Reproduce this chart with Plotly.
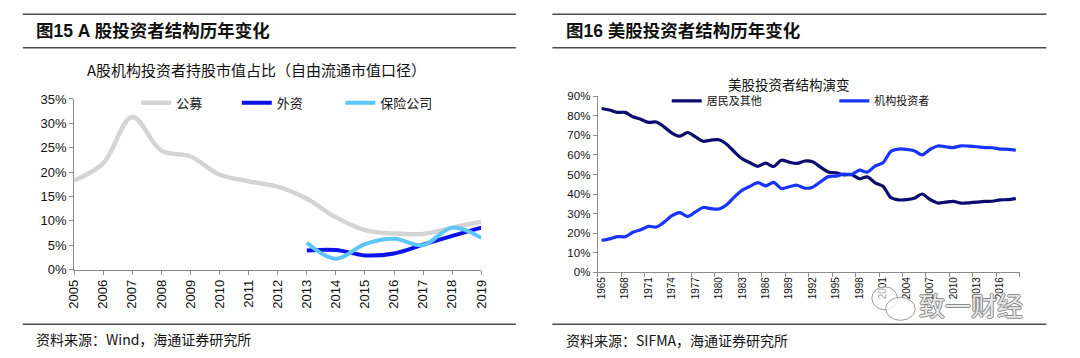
import plotly.graph_objects as go

W, H = 1080, 358

# ---------------- data: left panel (A-share) ----------------
a_years = [2005, 2006, 2007, 2008, 2009, 2010, 2011, 2012, 2013, 2014, 2015, 2016, 2017, 2018, 2019]
a_fund = [18.3, 21.8, 31.3, 24.4, 23.2, 19.5, 18.1, 17.0, 14.5, 10.7, 8.1, 7.4, 7.3, 8.6, 9.8]
a_sub_years = [2013, 2014, 2015, 2016, 2017, 2018, 2019]
a_foreign = [3.9, 4.0, 2.9, 3.3, 5.1, 6.9, 8.6]
a_insur = [5.5, 2.2, 5.2, 6.3, 5.0, 8.6, 6.5]

# ---------------- data: right panel (US) ----------------
us_years = list(range(1965, 2019))
us_household = [83.8, 83.0, 81.8, 81.8, 79.6, 78.3, 76.7, 76.9, 74.4, 71.2,
                69.6, 71.5, 69.3, 67.0, 67.6, 67.8, 65.5, 61.5, 58.0, 56.0,
                54.2, 55.8, 54.1, 57.3, 56.3, 55.7, 56.9, 56.5, 53.8, 51.3,
                50.9, 49.8, 49.9, 47.8, 48.8, 45.7, 44.0, 38.2, 37.0, 37.1,
                37.8, 40.0, 37.2, 35.4, 35.8, 36.2, 35.3, 35.5, 35.8, 36.2,
                36.3, 37.0, 37.1, 37.6]
us_inst = [16.2, 17.0, 18.2, 18.1, 20.4, 21.7, 23.4, 23.1, 25.6, 28.9,
           30.5, 28.5, 30.8, 33.1, 32.5, 32.3, 34.5, 38.5, 42.0, 44.0,
           45.8, 44.2, 46.0, 42.8, 43.7, 44.5, 43.0, 43.5, 46.2, 48.9,
           49.2, 50.2, 50.1, 52.2, 51.2, 54.3, 56.0, 61.8, 63.0, 62.9,
           62.2, 60.0, 62.8, 64.6, 64.2, 63.8, 64.7, 64.5, 64.2, 63.8,
           63.7, 63.0, 62.9, 62.4]
us_tickyears = list(range(1965, 2017, 3))

CJK = "Noto Sans CJK SC"
LAT = "Liberation Sans, Arial, Noto Sans CJK SC"
AX = "#8c8c8c"

fig = go.Figure()

fig.add_trace(go.Scatter(x=a_years, y=a_fund, name="公募", mode="lines",
                         line=dict(color="#d4d4d4", width=4.5, shape="spline"),
                         xaxis="x", yaxis="y", legend="legend"))
fig.add_trace(go.Scatter(x=a_sub_years, y=a_foreign, name="外资", mode="lines",
                         line=dict(color="#0a14e8", width=4, shape="spline"),
                         xaxis="x", yaxis="y", legend="legend2"))
fig.add_trace(go.Scatter(x=a_sub_years, y=a_insur, name="保险公司", mode="lines",
                         line=dict(color="#5cc6f8", width=4, shape="spline"),
                         xaxis="x", yaxis="y", legend="legend3"))

fig.add_trace(go.Scatter(x=us_years, y=us_household, name="居民及其他", mode="lines",
                         line=dict(color="#0c0c6e", width=3.2, shape="spline", smoothing=0.8),
                         xaxis="x2", yaxis="y2", legend="legend4"))
fig.add_trace(go.Scatter(x=us_years, y=us_inst, name="机构投资者", mode="lines",
                         line=dict(color="#1834ff", width=3.2, shape="spline", smoothing=0.8),
                         xaxis="x2", yaxis="y2", legend="legend5"))

def px(x):
    return x / W

def py(y):
    return 1 - y / H

tickfont_l = dict(family=LAT, size=13, color="#111111")
tickfont_r = dict(family=LAT, size=11.5, color="#111111")

def leg(xp, yp, size):
    return dict(x=px(xp), y=py(yp), xanchor="left", yanchor="middle",
                orientation="h", bgcolor="rgba(0,0,0,0)", borderwidth=0,
                font=dict(family=CJK, size=size, color="#111111"),
                itemwidth=30, tracegroupgap=0)

fig.update_layout(
    width=W, height=H,
    margin=dict(l=0, r=0, t=0, b=0),
    paper_bgcolor="white", plot_bgcolor="white",
    showlegend=True,
    xaxis=dict(domain=[px(67), px(480)], range=[2005, 2019],
               tickmode="array", tickvals=a_years, ticktext=[str(y) for y in a_years],
               tickangle=-90, ticks="outside", ticklen=4, tickcolor=AX,
               showline=True, linecolor=AX, linewidth=1, showgrid=False, zeroline=False,
               tickfont=tickfont_l, anchor="y", fixedrange=True),
    yaxis=dict(domain=[py(274), py(96)], range=[0, 35], dtick=5, ticksuffix="%",
               ticks="outside", ticklen=4, tickcolor=AX,
               showline=True, linecolor=AX, linewidth=1, showgrid=False, zeroline=False,
               tickfont=tickfont_l, anchor="x", fixedrange=True),
    xaxis2=dict(domain=[px(598), px(1026)], range=[1964.5, 2018.5],
                tickmode="array", tickvals=us_tickyears, ticktext=[str(y) for y in us_tickyears],
                tickangle=-90, ticks="", showline=True, linecolor=AX, linewidth=1,
                minor=dict(ticks="outside", tickmode="linear", tick0=1964.5, dtick=3,
                           ticklen=4, tickcolor=AX, showgrid=False),
                showgrid=False, zeroline=False,
                tickfont=dict(family=LAT, size=10, color="#111111"), anchor="y2", fixedrange=True),
    yaxis2=dict(domain=[py(276.7), py(93.3)], range=[0, 90], dtick=10, ticksuffix="%",
                ticks="outside", ticklen=4, tickcolor=AX,
                showline=True, linecolor=AX, linewidth=1, showgrid=False, zeroline=False,
                tickfont=tickfont_r, anchor="x2", fixedrange=True),
    legend=leg(130, 100, 13),
    legend2=leg(232, 100, 13),
    legend3=leg(337, 100, 13),
    legend4=leg(668, 98, 11),
    legend5=leg(838, 98, 11),
)

rule = dict(type="line", xref="paper", yref="paper", line=dict(color="#4a4a4a", width=1.5))
shapes = []
for x0, x1 in [(15, 515), (552, 1053)]:
    for yy in [7.5, 42.5, 331]:
        s = dict(rule)
        s.update(x0=px(x0), x1=px(x1), y0=py(yy), y1=py(yy))
        shapes.append(s)
# watermark bubbles
shapes.append(dict(type="circle", xref="paper", yref="paper",
                   x0=px(876), x1=px(902), y0=py(316), y1=py(292),
                   line=dict(color="#9a9a9a", width=1), fillcolor="rgba(255,255,255,0.6)"))
shapes.append(dict(type="circle", xref="paper", yref="paper",
                   x0=px(890), x1=px(920), y0=py(327), y1=py(303),
                   line=dict(color="#9a9a9a", width=1), fillcolor="rgba(255,255,255,0.8)"))
fig.update_layout(shapes=shapes)

ann = []
ann.append(dict(text="<b>图15 A 股投资者结构历年变化</b>", x=px(26), y=py(25),
                xanchor="left", yanchor="middle", showarrow=False, xref="paper", yref="paper",
                font=dict(family=LAT, size=17.5, color="#111111")))
ann.append(dict(text="<b>图16 美股投资者结构历年变化</b>", x=px(564), y=py(25),
                xanchor="left", yanchor="middle", showarrow=False, xref="paper", yref="paper",
                font=dict(family=LAT, size=17.5, color="#111111")))
ann.append(dict(text="A股机构投资者持股市值占比（自由流通市值口径）", x=px(252), y=py(65),
                xanchor="center", yanchor="middle", showarrow=False, xref="paper", yref="paper",
                font=dict(family=CJK, size=15, color="#111111")))
ann.append(dict(text="美股投资者结构演变", x=px(792), y=py(80),
                xanchor="center", yanchor="middle", showarrow=False, xref="paper", yref="paper",
                font=dict(family=CJK, size=13.5, color="#111111")))
ann.append(dict(text="资料来源：Wind，海通证券研究所", x=px(26), y=py(347),
                xanchor="left", yanchor="middle", showarrow=False, xref="paper", yref="paper",
                font=dict(family=CJK, size=14, color="#111111")))
ann.append(dict(text="资料来源：SIFMA，海通证券研究所", x=px(564), y=py(348),
                xanchor="left", yanchor="middle", showarrow=False, xref="paper", yref="paper",
                font=dict(family=CJK, size=14, color="#111111")))
ann.append(dict(text="致一财经", x=px(977), y=py(311),
                xanchor="center", yanchor="middle", showarrow=False, xref="paper", yref="paper",
                font=dict(family=CJK, size=26, color="rgba(255,255,255,0.85)",
                          shadow="1px 0 0 #777, -1px 0 0 #777, 0 1px 0 #777, 0 -1px 0 #777")))
fig.update_layout(annotations=ann)

fig.write_html("out.html", config={"displayModeBar": False})

# remove the default page margin so the figure sits at the window origin
with open("out.html", "r", encoding="utf-8") as f:
    html = f.read()
html = html.replace("<head>", "<head><style>html,body{margin:0;padding:0;overflow:hidden;}</style>", 1)
with open("out.html", "w", encoding="utf-8") as f:
    f.write(html)
